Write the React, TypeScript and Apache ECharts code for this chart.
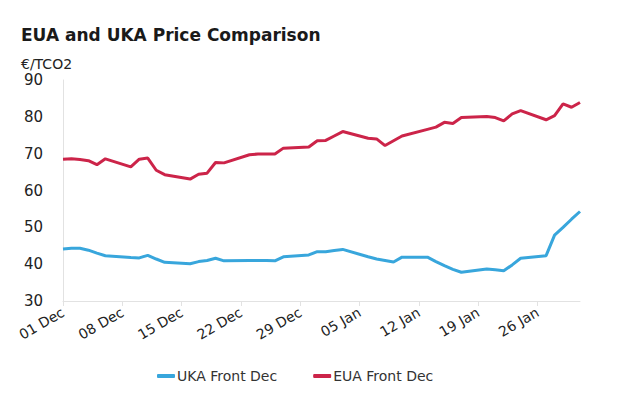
import React, { useEffect, useRef } from "react";
import * as echarts from "echarts";

// Calendar days shown on the x axis: 01 Dec to 31 Jan
const decDays = Array.from({ length: 31 }, (_, i) => `${String(i + 1).padStart(2, "0")} Dec`);
const janDays = Array.from({ length: 31 }, (_, i) => `${String(i + 1).padStart(2, "0")} Jan`);
const dayLabels: string[] = [...decDays, ...janDays];

// Trading days with a settlement price
const tradeDates = [
  "01 Dec", "02 Dec", "03 Dec", "04 Dec", "05 Dec", "06 Dec",
  "09 Dec", "10 Dec", "11 Dec", "12 Dec", "13 Dec",
  "16 Dec", "17 Dec", "18 Dec", "19 Dec", "20 Dec",
  "23 Dec", "24 Dec", "25 Dec", "26 Dec", "27 Dec",
  "30 Dec", "31 Dec", "01 Jan", "02 Jan", "03 Jan",
  "06 Jan", "07 Jan", "08 Jan", "09 Jan", "10 Jan",
  "13 Jan", "14 Jan", "15 Jan", "16 Jan", "17 Jan",
  "20 Jan", "21 Jan", "22 Jan", "23 Jan", "24 Jan",
  "27 Jan", "28 Jan", "29 Jan", "30 Jan", "31 Jan",
];

const ukaFrontDec = [
  44.1, 44.3, 44.3, 43.8, 43.0, 42.3,
  41.8, 41.7, 42.4, 41.4, 40.5,
  40.1, 40.7, 41.0, 41.6, 40.9,
  41.0, 41.0, 41.0, 40.9, 42.0,
  42.5, 43.4, 43.4, 43.7, 44.0,
  42.0, 41.4, 41.0, 40.6, 41.9,
  41.9, 40.7, 39.6, 38.6, 37.8,
  38.7, 38.5, 38.2, 39.8, 41.6,
  42.3, 47.9, 50.0, 52.2, 54.3,
];

const euaFrontDec = [
  68.5, 68.6, 68.4, 68.1, 67.0, 68.6,
  66.4, 68.5, 68.8, 65.5, 64.3,
  63.1, 64.4, 64.7, 67.6, 67.5,
  69.7, 69.9, 69.9, 69.9, 71.5,
  71.8, 73.5, 73.6, 74.8, 76.0,
  74.2, 74.0, 72.2, 73.5, 74.8,
  76.6, 77.2, 78.5, 78.2, 79.8,
  80.1, 79.8, 78.9, 80.8, 81.7,
  79.2, 80.3, 83.5, 82.6, 83.9,
];

const yTicks = { min: 30, max: 90, step: 10 };

const UKA_COLOR = "#38a6dc";
const EUA_COLOR = "#cc2449";
const FONT = "'DejaVu Sans', sans-serif";

// Spread prices over the full calendar, leaving non-trading days empty
function onCalendar(values: number[]): (number | null)[] {
  return dayLabels.map((d) => {
    const k = tradeDates.indexOf(d);
    return k >= 0 ? values[k] : null;
  });
}

export default function App() {
  const ref = useRef<HTMLDivElement>(null);

  useEffect(() => {
    if (!ref.current) return;
    const chart = echarts.init(ref.current, undefined, { renderer: "svg" });
    chart.setOption({
      animation: false,
      backgroundColor: "#ffffff",
      textStyle: { fontFamily: FONT },
      title: [
        {
          text: "EUA and UKA Price Comparison",
          left: 16,
          top: 21,
          textStyle: { fontFamily: FONT, fontSize: 17, fontWeight: "bold", color: "#1a1a1a" },
        },
        {
          text: "€/TCO2",
          left: 16,
          top: 52,
          padding: [5, 5, 3, 5],
          textStyle: { fontFamily: FONT, fontSize: 14, fontWeight: "normal", color: "#222" },
        },
      ],
      grid: { left: 63, right: 38, top: 80, bottom: 119, containLabel: false },
      legend: {
        bottom: 32,
        left: 152,
        icon: "roundRect",
        itemWidth: 18,
        itemHeight: 4,
        itemGap: 36,
        textStyle: { fontFamily: FONT, fontSize: 14, color: "#333", padding: [0, 0, 0, -3] },
        data: ["UKA Front Dec", "EUA Front Dec"],
      },
      xAxis: {
        type: "category",
        data: dayLabels,
        boundaryGap: false,
        axisLine: { show: true, lineStyle: { color: "#e2e2e2", width: 1 } },
        axisTick: { show: true, interval: 6, length: 5, lineStyle: { color: "#e2e2e2" } },
        axisLabel: {
          interval: 6,
          rotate: 30,
          fontSize: 14,
          color: "#222",
          margin: 10,
          fontFamily: FONT,
        },
        splitLine: { show: false },
      },
      yAxis: {
        type: "value",
        min: yTicks.min,
        max: yTicks.max,
        interval: yTicks.step,
        axisLine: { show: true, lineStyle: { color: "#e2e2e2", width: 1 } },
        axisTick: { show: false },
        axisLabel: { fontSize: 15, color: "#222", margin: 20, fontFamily: FONT },
        splitLine: { show: false },
      },
      series: [
        {
          name: "UKA Front Dec",
          type: "line",
          data: onCalendar(ukaFrontDec),
          connectNulls: true,
          showSymbol: false,
          symbol: "none",
          lineStyle: { color: UKA_COLOR, width: 3 },
          itemStyle: { color: UKA_COLOR },
        },
        {
          name: "EUA Front Dec",
          type: "line",
          data: onCalendar(euaFrontDec),
          connectNulls: true,
          showSymbol: false,
          symbol: "none",
          lineStyle: { color: EUA_COLOR, width: 3 },
          itemStyle: { color: EUA_COLOR },
        },
      ],
    });
    return () => chart.dispose();
  }, []);

  return (
    <div
      ref={ref}
      style={{ position: "fixed", left: 0, top: 0, width: 618, height: 420 }}
    />
  );
}
